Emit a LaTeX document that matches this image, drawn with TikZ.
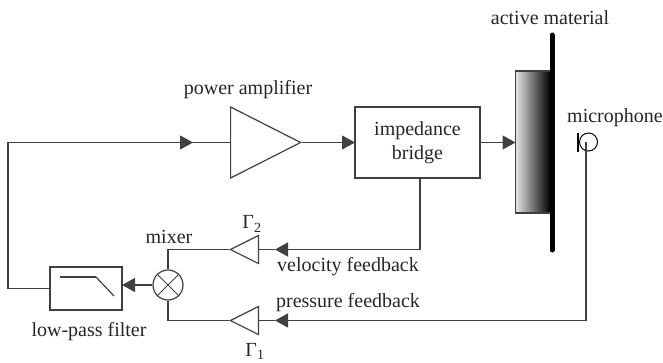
\documentclass[tikz,border=0pt]{standalone}
\usepackage{fontspec}
\setmainfont{Liberation Serif}
\usetikzlibrary{arrows.meta,shapes.geometric}
\tikzset{
    wire/.style={draw=black!75, line width=1.2pt},
    feed/.style={wire, -{Triangle[length=13pt,width=14pt]}},
    lbl/.style={text=black!85, font=\fontsize{20}{24}\selectfont, inner sep=0pt, align=center},
    amp/.style={draw=black!75, line width=1.2pt, isosceles triangle, isosceles triangle stretches, inner sep=0pt, anchor=lower side},
    block/.style={draw=black!75, line width=1.2pt, inner sep=0pt},
}
\begin{document}
\begin{tikzpicture}[x=1pt,y=-1pt]
    \useasboundingbox (0,0) rectangle (663,362);
    % blocks
    \node (amplifier) [amp, minimum width=71pt, minimum height=70pt] at (230,142.5) {};
    \node (bridge) [block, lbl, draw=black!75, minimum width=125pt, minimum height=71pt] at (417.5,142.5) {impedance\\bridge};
    \node (filter) [block, minimum width=72pt, minimum height=43pt] at (86,288.5) {};
    \node (mixer) [block, circle, minimum size=30pt] at (168,285) {};
    \node (gammatwo) [amp, shape border rotate=180, minimum width=28pt, minimum height=28pt] at (259,249.5) {};
    \node (gammaone) [amp, shape border rotate=180, minimum width=28pt, minimum height=28pt] at (259,320.5) {};
    \node (sample) [block, shading=axis, left color=black!10, right color=black, minimum width=35pt, minimum height=142pt] at (533,142) {};
    \node (mic) [draw=black, line width=1pt, circle, minimum size=18pt, inner sep=0pt] at (588.5,142) {};
    % plate and mic bar
    \draw[line width=5pt, line cap=round] (552,35) coordinate (platetop) -- (552,250) coordinate (platebot);
    \draw[line width=2.5pt] (578,133) coordinate (bartop) -- (578,152) coordinate (barbot);
    % mixer cross and filter curve
    \draw[wire, line width=0.8pt] (mixer.north west) -- (mixer.south east);
    \draw[wire, line width=0.8pt] (mixer.north east) -- (mixer.south west);
    \draw[wire, line width=1.6pt] (60,277) coordinate (passa) -- (96,277) coordinate (passb);
    \draw[wire] (passb) -- (114,296) coordinate (passc);
    % forward path
    \coordinate (tipa) at (193,142.5);
    \coordinate (tipb) at (355,142.5);
    \coordinate (tipc) at (515.5,142.5);
    \draw[feed] (filter.west) -- (8,288.5) -- (8,142.5) -- (tipa);
    \draw[wire] (tipa) -- (amplifier.lower side);
    \draw[feed] (amplifier.apex) -- (tipb);
    \draw[feed] (bridge.east) -- (tipc);
    % feedback paths
    \coordinate (tipd) at (275,249.5);
    \coordinate (tipe) at (275,320.5);
    \coordinate (bridgeout) at (420,178);
    \draw[feed] (bridgeout) -- (420,249.5) -- (tipd);
    \draw[wire] (tipd) -- (gammatwo.lower side);
    \coordinate (micout) at (586,142);
    \draw[feed] (micout) -- (586,320.5) -- (tipe);
    \draw[wire] (tipe) -- (gammaone.lower side);
    \draw[wire] (gammatwo.apex) -- (168,249.5) -- (mixer.north);
    \draw[wire] (gammaone.apex) -- (168,320.5) -- (mixer.south);
    \draw[feed] (mixer.west) -- (122,285);
    % labels
    \node (lblamp) [lbl] at (248,90) {power amplifier};
    \node (lblmat) [lbl] at (550,18) {active material};
    \node (lblmic) [lbl] at (615,118) {microphone};
    \node (lblmix) [lbl] at (169,237) {mixer};
    \node (lbllow) [lbl] at (89,332) {low-pass filter};
    \node (lblvel) [lbl] at (348,267) {velocity feedback};
    \node (lblpre) [lbl] at (348,303) {pressure feedback};
    \node (lbltwo) [lbl] at (252,224) {Γ\textsubscript{2}};
    \node (lblone) [lbl] at (255,351) {Γ\textsubscript{1}};
\end{tikzpicture}
\end{document}
